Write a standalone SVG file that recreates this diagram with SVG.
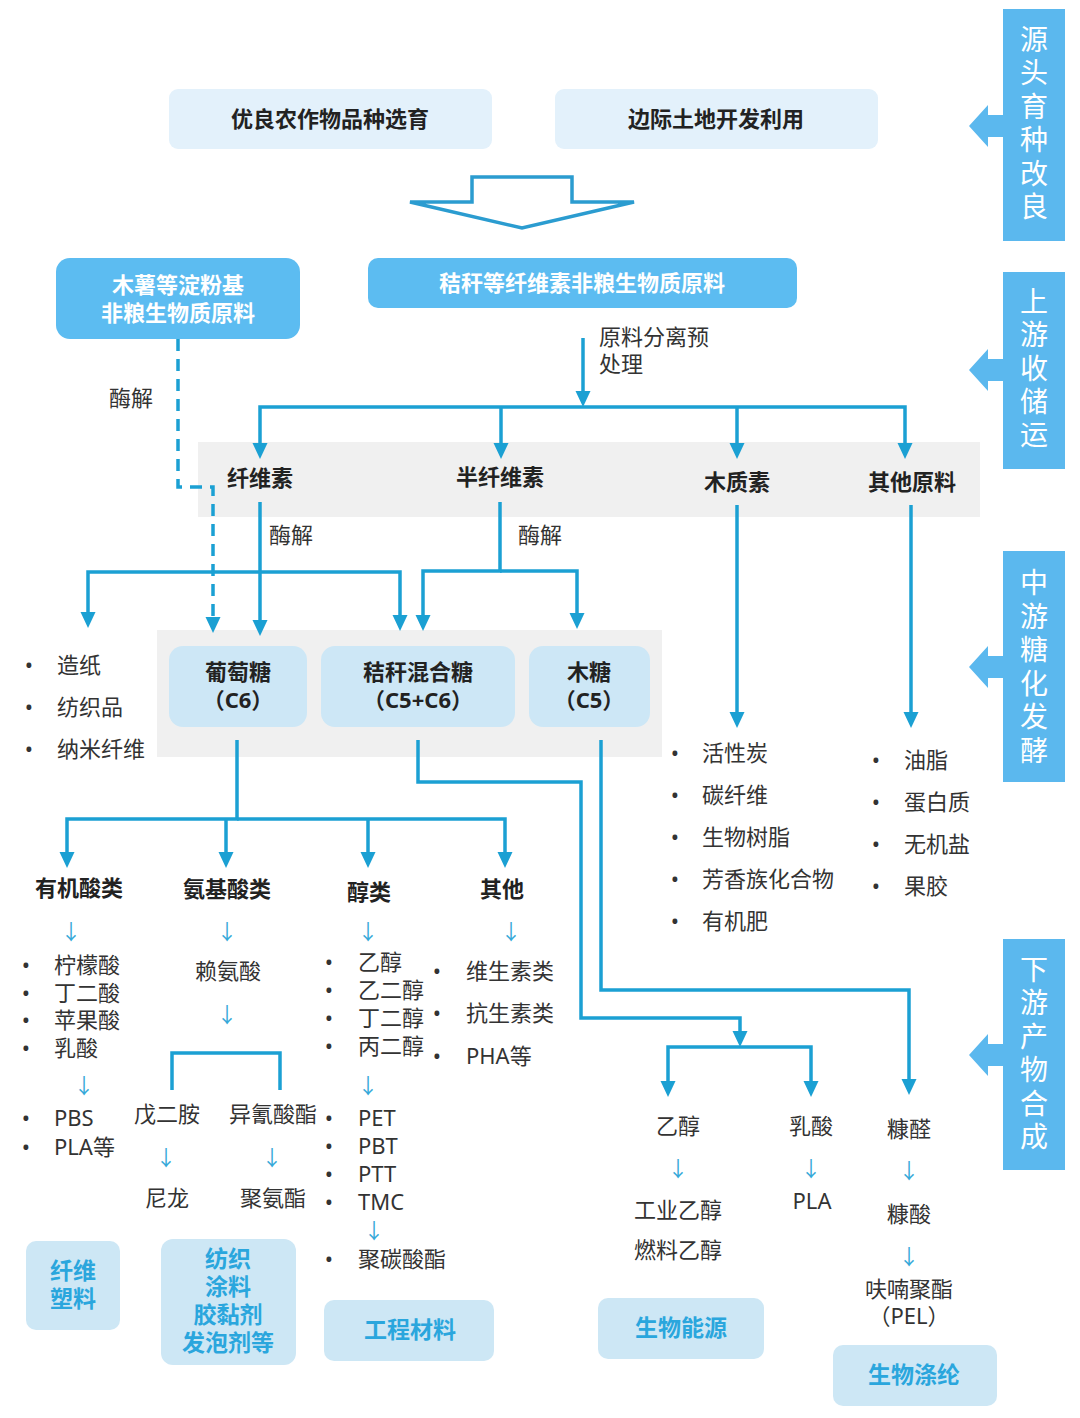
<svg xmlns="http://www.w3.org/2000/svg" width="1080" height="1418" viewBox="0 0 1080 1418">
<defs>
<style>
.t{font-family:"Noto Sans","Noto Sans CJK SC",sans-serif;font-size:22px;fill:#333}
.b{font-weight:bold;fill:#222}
.m{text-anchor:middle}
.w{fill:#fff;font-weight:bold}
.c{fill:#2aa6dd;font-weight:bold;font-size:23px}
.ar{fill:#36a9d9;font-size:21px}
.side{font-family:"Noto Sans","Noto Sans CJK SC",sans-serif;font-size:28px;fill:#fff;text-anchor:middle}
.ln{fill:none;stroke:#1ba0d3;stroke-width:3.5}
.dash{stroke-dasharray:12 8}
.panel{fill:#5bb8ee}
.top{fill:#e3f1fb}
.blue{fill:#5cbcf1}
.sugar{fill:#cde7f6}
.cat{fill:#cde7f5}
.band{fill:#f0f0f0}
</style>
<marker id="ah" markerUnits="userSpaceOnUse" markerWidth="16" markerHeight="16" viewBox="0 -8 16 16" refX="0" refY="0" orient="auto">
<path d="M0,-7.5 L16,0 L0,7.5 z" fill="#1ba0d3"/>
</marker>
</defs>
<rect width="1080" height="1418" fill="#fff"/>

<!-- background bands -->
<rect class="band" x="198" y="442" width="782" height="75"/>
<rect class="band" x="157" y="630" width="505" height="127"/>

<!-- side panels -->
<g id="side1">
<rect class="panel" x="1003" y="9" width="62" height="232"/>
<polygon class="panel" points="969,126 988,105 988,115 1004,115 1004,137 988,137 988,147"/>
<text class="side" x="1034" y="50">源<tspan x="1034" dy="33.4">头</tspan><tspan x="1034" dy="33.4">育</tspan><tspan x="1034" dy="33.4">种</tspan><tspan x="1034" dy="33.4">改</tspan><tspan x="1034" dy="33.4">良</tspan></text>
</g>
<g id="side2">
<rect class="panel" x="1003" y="272" width="62" height="197"/>
<polygon class="panel" points="969,370 988,349 988,359 1004,359 1004,381 988,381 988,391"/>
<text class="side" x="1034" y="312">上<tspan x="1034" dy="33.3">游</tspan><tspan x="1034" dy="33.3">收</tspan><tspan x="1034" dy="33.3">储</tspan><tspan x="1034" dy="33.3">运</tspan></text>
</g>
<g id="side3">
<rect class="panel" x="1003" y="551" width="62" height="231"/>
<polygon class="panel" points="969,667 988,646 988,656 1004,656 1004,678 988,678 988,688"/>
<text class="side" x="1034" y="593">中<tspan x="1034" dy="33.5">游</tspan><tspan x="1034" dy="33.5">糖</tspan><tspan x="1034" dy="33.5">化</tspan><tspan x="1034" dy="33.5">发</tspan><tspan x="1034" dy="33.5">酵</tspan></text>
</g>
<g id="side4">
<rect class="panel" x="1003" y="939" width="62" height="231"/>
<polygon class="panel" points="969,1055 988,1034 988,1044 1004,1044 1004,1066 988,1066 988,1076"/>
<text class="side" x="1034" y="980">下<tspan x="1034" dy="33.4">游</tspan><tspan x="1034" dy="33.4">产</tspan><tspan x="1034" dy="33.4">物</tspan><tspan x="1034" dy="33.4">合</tspan><tspan x="1034" dy="33.4">成</tspan></text>
</g>

<!-- top -->
<g id="n-breed">
<rect class="top" x="169" y="89" width="323" height="60" rx="9"/>
<text class="t b m" x="330" y="127">优良农作物品种选育</text>
</g>
<g id="n-land">
<rect class="top" x="555" y="89" width="323" height="60" rx="9"/>
<text class="t b m" x="716" y="127">边际土地开发利用</text>
</g>
<g id="bigarrow">
<polygon points="472,177 572,177 572,202 634,202 522,228 410,202 472,202" fill="#fff" stroke="#2b9cd0" stroke-width="3.5" stroke-linejoin="miter"/>
</g>

<g id="n-starch">
<rect class="blue" x="56" y="258" width="244" height="81" rx="14"/>
<text class="t w m" x="178" y="293">木薯等淀粉基<tspan x="178" dy="28">非粮生物质原料</tspan></text>
</g>
<g id="n-straw">
<rect class="blue" x="368" y="258" width="429" height="50" rx="10"/>
<text class="t w m" x="582" y="291">秸秆等纤维素非粮生物质原料</text>
</g>

<!-- connectors -->
<g id="connectors">
<path class="ln" d="M583,338 V391" marker-end="url(#ah)"/>
<path class="ln" d="M583,407 H260 V443" marker-end="url(#ah)"/>
<path class="ln" d="M583,407 H905 V443" marker-end="url(#ah)"/>
<path class="ln" d="M501,407 V443" marker-end="url(#ah)"/>
<path class="ln" d="M737,407 V443" marker-end="url(#ah)"/>
<path class="ln dash" d="M178,339 V487 H213 V617" marker-end="url(#ah)"/>
<path class="ln" d="M260,502 V620" marker-end="url(#ah)"/>
<path class="ln" d="M260,572 H88 V612" marker-end="url(#ah)"/>
<path class="ln" d="M260,572 H400 V615" marker-end="url(#ah)"/>
<path class="ln" d="M500,502 V571 H423 V615" marker-end="url(#ah)"/>
<path class="ln" d="M500,571 H577 V613" marker-end="url(#ah)"/>
<path class="ln" d="M737,505 V712" marker-end="url(#ah)"/>
<path class="ln" d="M911,505 V712" marker-end="url(#ah)"/>
<path class="ln" d="M237,740 V819 H67 V852" marker-end="url(#ah)"/>
<path class="ln" d="M237,819 H505 V852" marker-end="url(#ah)"/>
<path class="ln" d="M226,819 V852" marker-end="url(#ah)"/>
<path class="ln" d="M368,819 V852" marker-end="url(#ah)"/>
<path class="ln" d="M418,740 V782 H581 V1018 H740 V1031" marker-end="url(#ah)"/>
<path class="ln" d="M740,1047 H668 V1081" marker-end="url(#ah)"/>
<path class="ln" d="M740,1047 H811 V1081" marker-end="url(#ah)"/>
<path class="ln" d="M601,740 V990 H909 V1079" marker-end="url(#ah)"/>
<path class="ln" d="M172,1090 V1053 H280 V1090"/>
</g>

<!-- labels on edges -->
<text class="t" x="599" y="345">原料分离预<tspan x="599" dy="27">处理</tspan></text>
<text class="t m" x="131" y="406">酶解</text>
<text class="t" x="269" y="543">酶解</text>
<text class="t" x="518" y="543">酶解</text>

<!-- raw material components -->
<g id="n-cellulose"><text class="t b m" x="260" y="486">纤维素</text></g>
<g id="n-hemi"><text class="t b m" x="500" y="485">半纤维素</text></g>
<g id="n-lignin"><text class="t b m" x="737" y="490">木质素</text></g>
<g id="n-other"><text class="t b m" x="912" y="490">其他原料</text></g>

<!-- sugars -->
<g id="n-glucose">
<rect class="sugar" x="169" y="646" width="138" height="81" rx="14"/>
<text class="t b m" x="238" y="680">葡萄糖<tspan x="238" dy="28">（C6）</tspan></text>
</g>
<g id="n-mixsugar">
<rect class="sugar" x="321" y="646" width="194" height="81" rx="14"/>
<text class="t b m" x="418" y="680">秸秆混合糖<tspan x="418" dy="28">（C5+C6）</tspan></text>
</g>
<g id="n-xylose">
<rect class="sugar" x="529" y="646" width="121" height="81" rx="14"/>
<text class="t b m" x="589" y="680">木糖<tspan x="589" dy="28">（C5）</tspan></text>
</g>

<!-- cellulose products -->
<g id="n-cellprod">
<text class="t m" x="29" y="673">•<tspan x="29" dy="42">•</tspan><tspan x="29" dy="42">•</tspan></text>
<text class="t" x="57" y="673">造纸<tspan x="57" dy="42">纺织品</tspan><tspan x="57" dy="42">纳米纤维</tspan></text>
</g>

<!-- lignin products -->
<g id="n-ligprod">
<text class="t m" x="675" y="761">•<tspan x="675" dy="42">•</tspan><tspan x="675" dy="42">•</tspan><tspan x="675" dy="42">•</tspan><tspan x="675" dy="42">•</tspan></text>
<text class="t" x="702" y="761">活性炭<tspan x="702" dy="42">碳纤维</tspan><tspan x="702" dy="42">生物树脂</tspan><tspan x="702" dy="42">芳香族化合物</tspan><tspan x="702" dy="42">有机肥</tspan></text>
</g>
<g id="n-otherprod">
<text class="t m" x="876" y="768">•<tspan x="876" dy="42">•</tspan><tspan x="876" dy="42">•</tspan><tspan x="876" dy="42">•</tspan></text>
<text class="t" x="904" y="768">油脂<tspan x="904" dy="42">蛋白质</tspan><tspan x="904" dy="42">无机盐</tspan><tspan x="904" dy="42">果胶</tspan></text>
</g>

<!-- categories -->
<g id="n-acid">
<text class="t b m" x="79" y="896">有机酸类</text>
<text class="t ar m" x="71" y="939">↓</text>
<text class="t m" x="26" y="973">•<tspan x="26" dy="27.7">•</tspan><tspan x="26" dy="27.7">•</tspan><tspan x="26" dy="27.7">•</tspan></text>
<text class="t" x="54" y="973">柠檬酸<tspan x="54" dy="27.7">丁二酸</tspan><tspan x="54" dy="27.7">苹果酸</tspan><tspan x="54" dy="27.7">乳酸</tspan></text>
<text class="t ar m" x="84" y="1093">↓</text>
<text class="t m" x="26" y="1126">•<tspan x="26" dy="29">•</tspan></text>
<text class="t" x="54" y="1126">PBS<tspan x="54" dy="29">PLA等</tspan></text>
</g>
<g id="n-amino">
<text class="t b m" x="227" y="897">氨基酸类</text>
<text class="t ar m" x="227" y="939">↓</text>
<text class="t m" x="228" y="979">赖氨酸</text>
<text class="t ar m" x="227" y="1022">↓</text>
<text class="t m" x="167" y="1122">戊二胺</text>
<text class="t m" x="273" y="1122">异氰酸酯</text>
<text class="t ar m" x="166" y="1165">↓</text>
<text class="t ar m" x="272" y="1165">↓</text>
<text class="t m" x="167" y="1206">尼龙</text>
<text class="t m" x="273" y="1206">聚氨酯</text>
</g>
<g id="n-alcohol">
<text class="t b m" x="369" y="900">醇类</text>
<text class="t ar m" x="368" y="939">↓</text>
<text class="t m" x="329" y="970">•<tspan x="329" dy="28">•</tspan><tspan x="329" dy="28">•</tspan><tspan x="329" dy="28">•</tspan></text>
<text class="t" x="358" y="970">乙醇<tspan x="358" dy="28">乙二醇</tspan><tspan x="358" dy="28">丁二醇</tspan><tspan x="358" dy="28">丙二醇</tspan></text>
<text class="t ar m" x="368" y="1093">↓</text>
<text class="t m" x="329" y="1126">•<tspan x="329" dy="28">•</tspan><tspan x="329" dy="28">•</tspan><tspan x="329" dy="28">•</tspan></text>
<text class="t" x="358" y="1126">PET<tspan x="358" dy="28">PBT</tspan><tspan x="358" dy="28">PTT</tspan><tspan x="358" dy="28">TMC</tspan></text>
<text class="t ar m" x="374" y="1238">↓</text>
<text class="t m" x="329" y="1267">•</text><text class="t" x="358" y="1267">聚碳酸酯</text>
</g>
<g id="n-others2">
<text class="t b m" x="502" y="897">其他</text>
<text class="t ar m" x="511" y="939">↓</text>
<text class="t m" x="437" y="979">•<tspan x="437" dy="42">•</tspan><tspan x="437" dy="43">•</tspan></text>
<text class="t" x="466" y="979">维生素类<tspan x="466" dy="42">抗生素类</tspan><tspan x="466" dy="43">PHA等</tspan></text>
</g>

<!-- right-side downstream -->
<g id="n-ethanol">
<text class="t m" x="678" y="1134">乙醇</text>
<text class="t ar m" x="678" y="1176">↓</text>
<text class="t m" x="678" y="1218">工业乙醇<tspan x="678" dy="40">燃料乙醇</tspan></text>
</g>
<g id="n-lactic">
<text class="t m" x="811" y="1134">乳酸</text>
<text class="t ar m" x="811" y="1176">↓</text>
<text class="t m" x="812" y="1209">PLA</text>
</g>
<g id="n-furfural">
<text class="t m" x="909" y="1137">糠醛</text>
<text class="t ar m" x="909" y="1178">↓</text>
<text class="t m" x="909" y="1222">糠酸</text>
<text class="t ar m" x="909" y="1264">↓</text>
<text class="t m" x="909" y="1297">呋喃聚酯<tspan x="909" dy="27">（PEL）</tspan></text>
</g>

<!-- application boxes -->
<g id="c-fiber">
<rect class="cat" x="26" y="1241" width="94" height="89" rx="10"/>
<text class="t c m" x="73" y="1279">纤维<tspan x="73" dy="28">塑料</tspan></text>
</g>
<g id="c-textile">
<rect class="cat" x="161" y="1239" width="135" height="126" rx="12"/>
<text class="t c m" x="228" y="1267">纺织<tspan x="228" dy="28">涂料</tspan><tspan x="228" dy="28">胶黏剂</tspan><tspan x="228" dy="28">发泡剂等</tspan></text>
</g>
<g id="c-eng">
<rect class="cat" x="324" y="1300" width="170" height="61" rx="10"/>
<text class="t c m" x="410" y="1338">工程材料</text>
</g>
<g id="c-energy">
<rect class="cat" x="598" y="1298" width="166" height="61" rx="10"/>
<text class="t c m" x="681" y="1336">生物能源</text>
</g>
<g id="c-polyester">
<rect class="cat" x="833" y="1345" width="164" height="61" rx="10"/>
<text class="t c m" x="914" y="1383">生物涤纶</text>
</g>
</svg>
